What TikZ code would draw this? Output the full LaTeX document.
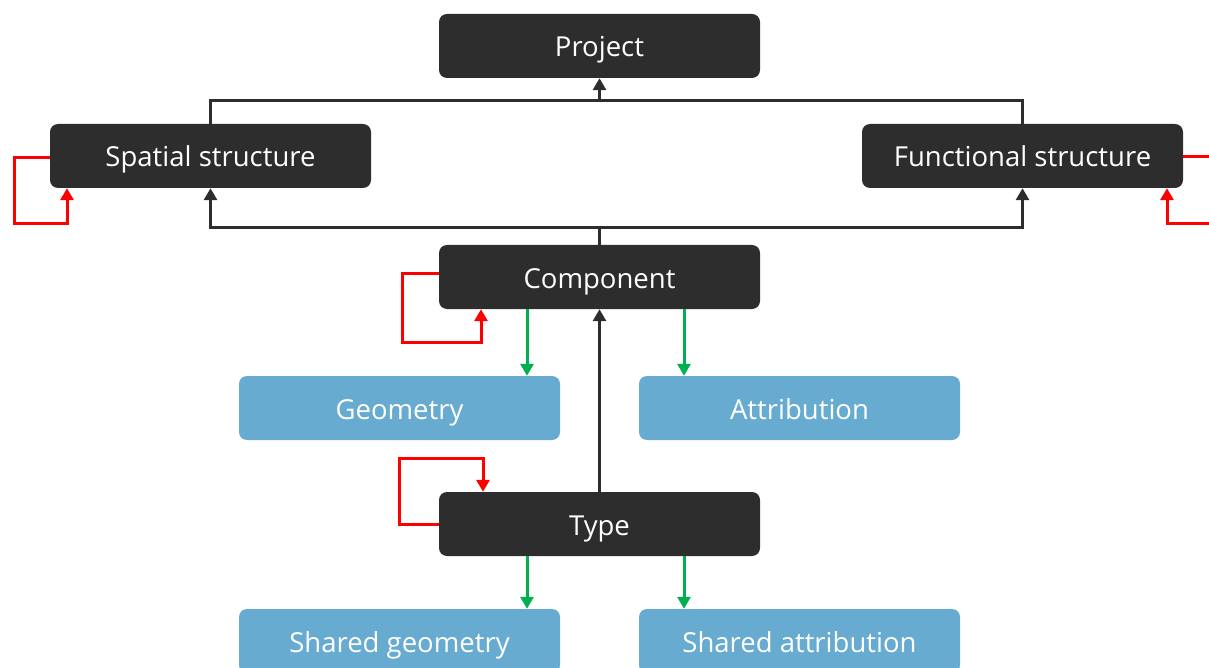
\documentclass[tikz,border=0pt]{standalone}
\usepackage{fontspec}
\setmainfont{Open Sans}
\usetikzlibrary{arrows.meta,positioning}
\definecolor{boxdark}{HTML}{2D2D2D}
\definecolor{boxblue}{HTML}{67ABD1}
\definecolor{linkgreen}{HTML}{00B050}
\definecolor{loopred}{HTML}{FF0000}
\tikzset{
  darkbox/.style={fill=boxdark, rounded corners=8pt, minimum width=321pt, minimum height=64pt,
    inner sep=0pt, text=white, text height=28pt, text depth=6pt,
    font=\fontsize{27.5}{32}\selectfont},
  bluebox/.style={darkbox, fill=boxblue},
  tip/.style={-{Triangle[width=13pt,length=12pt]}},
  hier/.style={draw=boxdark, line width=3pt, tip},
  hierline/.style={draw=boxdark, line width=3pt},
  part/.style={draw=linkgreen, line width=3pt, tip},
  selfref/.style={draw=loopred, line width=3pt, tip},
}
\begin{document}
\begin{tikzpicture}[x=1pt,y=-1pt]
\useasboundingbox (0,0) rectangle (1209,668);
\clip (0,0) rectangle (1209,668);

% boxes
\node[darkbox] (project)   at (599.5,46)  {Project};
\node[darkbox] (spatial)   at (210.5,156) {Spatial structure};
\node[darkbox] (functional) at (1022.5,156) {Functional structure};
\node[darkbox] (component) at (599.5,277) {Component};
\node[bluebox] (geometry)  at (399.5,408) {Geometry};
\node[bluebox] (attrib)    at (799.5,408) {Attribution};
\node[darkbox] (type)      at (599.5,524) {Type};
\node[bluebox] (sgeom)     at (399.5,641) {Shared geometry};
\node[bluebox] (sattrib)   at (799.5,641) {Shared attribution};

% structures -> project
\coordinate (topbus) at (599.5,101);
\draw[hierline] (spatial.north) |- (topbus) -| (functional.north);
\draw[hier] (topbus) -- (project.south);

% component -> structures
\coordinate (midbus) at (599.5,228);
\draw[hierline] (component.north) -- (midbus);
\draw[hier] (midbus) -| (spatial.south);
\draw[hier] (midbus) -| (functional.south);

% type -> component
\draw[hier] (type.north) -- (component.south);

% component and type parts
\draw[part] (component.south -| 527,0) -- (geometry.north -| 527,0);
\draw[part] (component.south -| 684,0) -- (attrib.north -| 684,0);
\draw[part] (type.south -| 527,0) -- (sgeom.north -| 527,0);
\draw[part] (type.south -| 684,0) -- (sattrib.north -| 684,0);

% self references
\draw[selfref] (spatial.west |- 0,158) -- (14,158) -- (14,224) -- (67,224) -- (spatial.south -| 67,0);
\draw[selfref] (functional.east |- 0,157) -- (1230,157) -- (1230,224) -- (1167,224) -- (functional.south -| 1167,0);
\draw[selfref] (component.west |- 0,273) -- (402,273) -- (402,342) -- (481,342) -- (component.south -| 481,0);
\draw[selfref] (type.west |- 0,524) -- (399,524) -- (399,458) -- (483,458) -- (type.north -| 483,0);
\end{tikzpicture}
\end{document}
